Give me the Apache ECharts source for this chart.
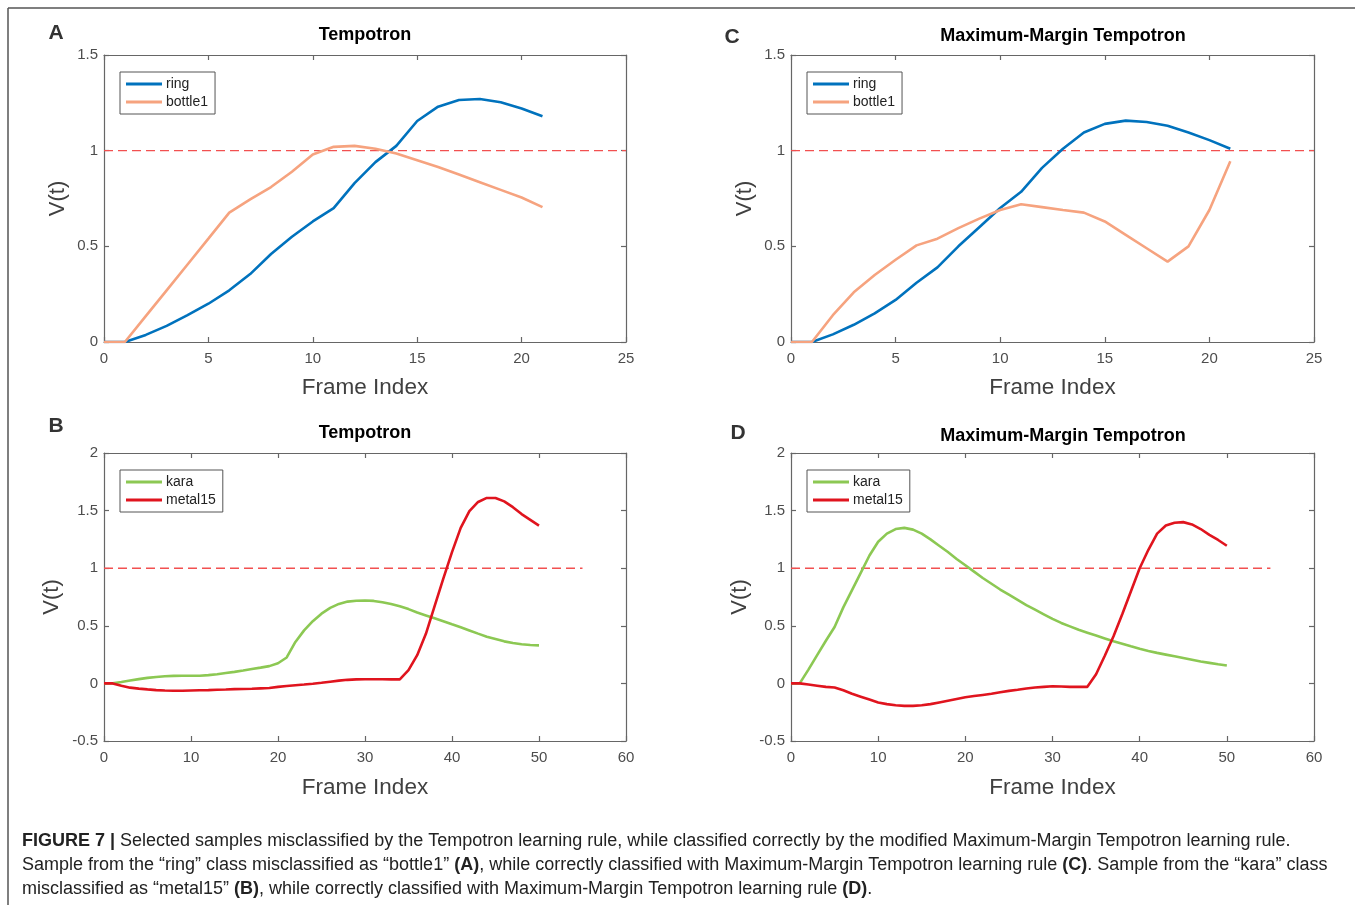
<!DOCTYPE html>
<html>
<head>
<meta charset="utf-8">
<title>Figure 7</title>
<script src="https://cdn.jsdelivr.net/npm/echarts@6/dist/echarts.min.js"></script>
<style>
    html, body { margin: 0; padding: 0; background: #fff; }
    #main { width: 1355px; height: 910px; }
</style>
</head>
<body>
<div id="main"></div>
<script>
// frame index (x) for the top row and the bottom row
var framesA = [0, 1, 2, 3, 4, 5, 6, 7, 8, 9, 10, 11, 12, 13, 14, 15, 16, 17, 18, 19, 20, 21];
var framesB = [0, 1, 2, 3, 4, 5, 6, 7, 8, 9, 10, 11, 12, 13, 14, 15, 16, 17, 18, 19, 20,
    21, 22, 23, 24, 25, 26, 27, 28, 29, 30, 31, 32, 33, 34, 35, 36, 37, 38, 39, 40,
    41, 42, 43, 44, 45, 46, 47, 48, 49, 50];

// A - Tempotron
var ringA = [0, 0, 0.037, 0.084, 0.14, 0.2, 0.27, 0.355, 0.46, 0.55, 0.63, 0.70, 0.83, 0.94, 1.025,
    1.155, 1.23, 1.265, 1.27, 1.253, 1.22, 1.18];
var bottleA = [0, 0, 0.135, 0.27, 0.405, 0.54, 0.676, 0.745, 0.81, 0.89, 0.98, 1.02, 1.025, 1.01, 0.985,
    0.95, 0.915, 0.875, 0.835, 0.795, 0.755, 0.705];

// C - Maximum-Margin Tempotron
var ringC = [0, 0, 0.04, 0.09, 0.15, 0.22, 0.31, 0.39, 0.50, 0.60, 0.70, 0.785, 0.91, 1.01, 1.095,
    1.14, 1.157, 1.15, 1.13, 1.095, 1.055, 1.01];
var bottleC = [0, 0, 0.14, 0.26, 0.35, 0.43, 0.505, 0.54, 0.595, 0.645, 0.69, 0.72, 0.705, 0.69, 0.676,
    0.63, 0.56, 0.49, 0.42, 0.50, 0.69, 0.945];

// B - Tempotron
var karaB = [0, 0, 0.012, 0.025, 0.037, 0.048, 0.056, 0.062, 0.065, 0.066, 0.067, 0.067, 0.072, 0.08,
    0.09, 0.1, 0.112, 0.125, 0.137, 0.15, 0.175, 0.225, 0.36, 0.46, 0.54, 0.605, 0.655, 0.69, 0.71,
    0.717, 0.72, 0.716, 0.705, 0.69, 0.67, 0.645, 0.615, 0.59, 0.565, 0.54, 0.513, 0.487, 0.46,
    0.432, 0.405, 0.385, 0.365, 0.35, 0.34, 0.333, 0.33];
var metalB = [0, 0, -0.02, -0.037, -0.045, -0.052, -0.058, -0.062, -0.064, -0.064, -0.062, -0.06,
    -0.058, -0.055, -0.053, -0.05, -0.048, -0.046, -0.043, -0.04, -0.03, -0.022, -0.016, -0.01,
    -0.003, 0.005, 0.015, 0.024, 0.031, 0.035, 0.036, 0.036, 0.036, 0.035, 0.035, 0.115, 0.245,
    0.43, 0.67, 0.91, 1.14, 1.35, 1.495, 1.575, 1.61, 1.61, 1.58, 1.53, 1.47, 1.42, 1.37];

// D - Maximum-Margin Tempotron
var karaD = [0, 0, 0.12, 0.245, 0.37, 0.49, 0.66, 0.81, 0.96, 1.11, 1.23, 1.30, 1.34, 1.35, 1.335,
    1.30, 1.25, 1.195, 1.14, 1.08, 1.025, 0.97, 0.915, 0.865, 0.815, 0.77, 0.725, 0.68, 0.64, 0.60,
    0.56, 0.525, 0.495, 0.465, 0.44, 0.415, 0.39, 0.365, 0.345, 0.322, 0.30, 0.282, 0.265, 0.25,
    0.235, 0.22, 0.205, 0.19, 0.178, 0.166, 0.155];
var metalD = [0, 0, -0.01, -0.02, -0.03, -0.035, -0.06, -0.09, -0.115, -0.14, -0.165, -0.18, -0.19,
    -0.195, -0.195, -0.19, -0.18, -0.165, -0.15, -0.135, -0.12, -0.11, -0.1, -0.09, -0.077, -0.065,
    -0.055, -0.044, -0.035, -0.03, -0.025, -0.027, -0.03, -0.03, -0.03, 0.08, 0.24, 0.41, 0.6,
    0.8, 1.0, 1.16, 1.3, 1.37, 1.395, 1.4, 1.38, 1.34, 1.29, 1.245, 1.195];

// threshold V = 1, drawn as a dashed line
var threshold = 1;
var thresholdEndTop = 25;
var thresholdEndBottom = 55;

var xTicksTop = [0, 25, 5];
var yTicksTop = [0, 1.5, 0.5];
var xTicksBottom = [0, 60, 10];
var yTicksBottom = [-0.5, 2, 0.5];

var C_RING = '#0072BD';
var C_BOTTLE = '#F6A37F';
var C_KARA = '#8CC853';
var C_METAL = '#E0141E';
var C_DASH = '#F25050';
var AXIS_COLOR = '#666';
var FONT = 'Liberation Sans, Arial, sans-serif';

var myChart = echarts.init(document.getElementById('main'));

// four panels: A, C, B, D
var panels = [
    { left: 104, top: 55, width: 522, height: 287, x: xTicksTop, y: yTicksTop, yGap: 35, xGap: 34 },
    { left: 791, top: 55, width: 523, height: 287, x: xTicksTop, y: yTicksTop, yGap: 35, xGap: 34 },
    { left: 104, top: 453, width: 522, height: 288, x: xTicksBottom, y: yTicksBottom, yGap: 41, xGap: 35 },
    { left: 791, top: 453, width: 523, height: 288, x: xTicksBottom, y: yTicksBottom, yGap: 40, xGap: 35 }
];

var grids = [], xAxes = [], yAxes = [];

panels.forEach(function (p, gi) {
    grids.push({ left: p.left, top: p.top, width: p.width, height: p.height, containLabel: false });

    var line = { show: true, onZero: false, lineStyle: { color: AXIS_COLOR, width: 1.2 } };
    var tick = { show: true, inside: true, length: 5, lineStyle: { color: AXIS_COLOR, width: 1.2 } };
    var label = { show: true, color: '#4D4D4D', fontSize: 15, fontFamily: FONT };

    // bottom + top
    xAxes.push({
        type: 'value', gridIndex: gi, position: 'bottom',
        min: p.x[0], max: p.x[1], interval: p.x[2],
        axisLine: line, axisTick: tick, splitLine: { show: false },
        axisLabel: Object.assign({ margin: 9 }, label),
        name: 'Frame Index', nameLocation: 'middle', nameGap: p.xGap,
        nameTextStyle: { fontSize: 22.5, color: '#404040', fontFamily: FONT }
    });
    xAxes.push({
        type: 'value', gridIndex: gi, position: 'top',
        min: p.x[0], max: p.x[1], interval: p.x[2],
        axisLine: line, axisTick: tick, splitLine: { show: false },
        axisLabel: { show: false }
    });

    // left + right
    yAxes.push({
        type: 'value', gridIndex: gi, position: 'left',
        min: p.y[0], max: p.y[1], interval: p.y[2],
        axisLine: line, axisTick: tick, splitLine: { show: false },
        axisLabel: Object.assign({ margin: 6 }, label),
        name: 'V(t)', nameLocation: 'middle', nameGap: p.yGap,
        nameTextStyle: { fontSize: 22, color: '#404040', fontFamily: FONT }
    });
    yAxes.push({
        type: 'value', gridIndex: gi, position: 'right',
        min: p.y[0], max: p.y[1], interval: p.y[2],
        axisLine: line, axisTick: tick, splitLine: { show: false },
        axisLabel: { show: false }
    });
});

function zip(xs, ys) {
    return ys.map(function (v, i) {
        return [xs[i], v];
    });
}

function curve(name, gi, xs, ys, color) {
    return {
        name: name, type: 'line', xAxisIndex: gi * 2, yAxisIndex: gi * 2,
        data: zip(xs, ys), showSymbol: false, symbol: 'none',
        lineStyle: { color: color, width: 2.6 }, itemStyle: { color: color },
        z: 3
    };
}

function dashLine(gi, xEnd) {
    return {
        name: 'threshold', type: 'line', xAxisIndex: gi * 2, yAxisIndex: gi * 2,
        data: [[0, threshold], [xEnd, threshold]], showSymbol: false, symbol: 'none',
        lineStyle: { color: C_DASH, width: 1.4, type: [9, 5] },
        silent: true, z: 2
    };
}

var series = [
    dashLine(0, thresholdEndTop),
    curve('ring', 0, framesA, ringA, C_RING),
    curve('bottle1', 0, framesA, bottleA, C_BOTTLE),
    dashLine(1, thresholdEndTop),
    curve('ring', 1, framesA, ringC, C_RING),
    curve('bottle1', 1, framesA, bottleC, C_BOTTLE),
    dashLine(2, thresholdEndBottom),
    curve('kara', 2, framesB, karaB, C_KARA),
    curve('metal15', 2, framesB, metalB, C_METAL),
    dashLine(3, thresholdEndBottom),
    curve('kara', 3, framesB, karaD, C_KARA),
    curve('metal15', 3, framesB, metalD, C_METAL)
];

function legendBox(names, left, top) {
    return {
        data: names, orient: 'vertical', left: left, top: top,
        icon: 'rect', itemWidth: 36, itemHeight: 3, itemGap: 4,
        padding: [5, 7, 5, 6],
        borderColor: '#555', borderWidth: 1, backgroundColor: '#fff',
        textStyle: { fontSize: 14, color: '#222', fontFamily: FONT, padding: [0, 0, 0, -1] },
        selectedMode: false
    };
}

// 标题、字母、图注
function text(x, y, str, size, weight, align, color) {
    return {
        type: 'text', x: x, y: y,
        style: {
            text: str, fontSize: size, fontWeight: weight || 'normal', fontFamily: FONT,
            fill: color || '#000', align: align || 'center', verticalAlign: 'middle'
        }
    };
}

var captionRich = {
    b: { fontWeight: 'bold', fontSize: 18, fontFamily: FONT, fill: '#222' }
};

function captionLine(y, str) {
    return {
        type: 'text', x: 22, y: y,
        style: {
            text: str, fontSize: 18, fontFamily: FONT, fill: '#222',
            align: 'left', verticalAlign: 'middle', rich: captionRich
        }
    };
}

var graphics = [
    // frame around the figure
    { type: 'line', shape: { x1: 8, y1: 8, x2: 1356, y2: 8 }, style: { stroke: '#555', lineWidth: 1.5 } },
    { type: 'line', shape: { x1: 8, y1: 8, x2: 8, y2: 905 }, style: { stroke: '#555', lineWidth: 1.5 } },

    text(56, 33, 'A', 21, 'bold', 'center', '#333'),
    text(732, 37, 'C', 21, 'bold', 'center', '#333'),
    text(56, 426, 'B', 21, 'bold', 'center', '#333'),
    text(738, 433, 'D', 21, 'bold', 'center', '#333'),

    text(365, 35, 'Tempotron', 18, 'bold'),
    text(1063, 36, 'Maximum-Margin Tempotron', 18, 'bold'),
    text(365, 433, 'Tempotron', 18, 'bold'),
    text(1063, 436, 'Maximum-Margin Tempotron', 18, 'bold'),

    captionLine(841, '{b|FIGURE 7 |} Selected samples misclassified by the Tempotron learning rule, while classified correctly by the modified Maximum-Margin Tempotron learning rule.'),
    captionLine(865, 'Sample from the \u201cring\u201d class misclassified as \u201cbottle1\u201d {b|(A)}, while correctly classified with Maximum-Margin Tempotron learning rule {b|(C)}. Sample from the \u201ckara\u201d class'),
    captionLine(889, 'misclassified as \u201cmetal15\u201d {b|(B)}, while correctly classified with Maximum-Margin Tempotron learning rule {b|(D)}.')
];

var option = {
    animation: false,
    backgroundColor: '#fff',
    grid: grids,
    xAxis: xAxes,
    yAxis: yAxes,
    legend: [
        legendBox(['ring', 'bottle1'], 120, 72),
        legendBox(['ring', 'bottle1'], 807, 72),
        legendBox(['kara', 'metal15'], 120, 470),
        legendBox(['kara', 'metal15'], 807, 470)
    ],
    series: series,
    graphic: graphics
};

myChart.setOption(option);
</script>
</body>
</html>
